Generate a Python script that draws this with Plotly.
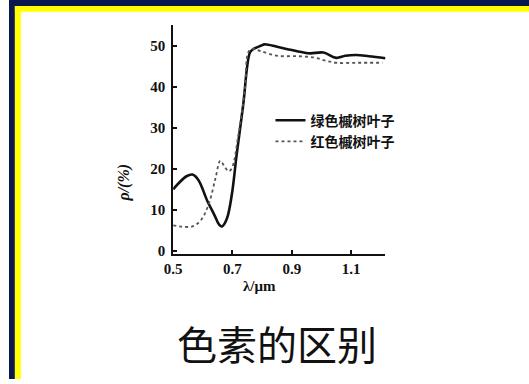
import plotly.graph_objects as go

# Reflectance spectra of maple leaves (wavelength in µm, reflectance in %)
wl_green = [0.50, 0.52, 0.545, 0.565, 0.585, 0.615, 0.64, 0.655, 0.665, 0.681,
            0.698, 0.714, 0.736, 0.759, 0.770, 0.797, 0.808, 0.85, 0.886, 0.94,
            0.963, 1.007, 1.05, 1.08, 1.117, 1.16, 1.216]
refl_green = [15.0, 16.6, 18.2, 18.6, 17.3, 12.2, 8.6, 6.4, 5.95, 7.8,
              13.8, 23.4, 35.5, 48.4, 49.2, 50.1, 50.4, 49.8, 49.2, 48.4,
              48.2, 48.4, 47.1, 47.6, 47.8, 47.5, 47.0]

wl_red = [0.50, 0.53, 0.565, 0.593, 0.620, 0.643, 0.659, 0.673, 0.687, 0.698,
          0.720, 0.742, 0.753, 0.766, 0.797, 0.852, 0.92, 0.974, 1.01, 1.05,
          1.12, 1.206]
refl_red = [6.2, 5.9, 5.95, 7.4, 11.4, 17.8, 22.0, 20.6, 19.4, 20.2,
            28.3, 39.5, 48.4, 49.3, 48.7, 47.6, 47.5, 47.2, 46.5, 45.9,
            45.9, 45.9]

names = ["绿色槭树叶子", "红色槭树叶子"]
x_ticks = [0.5, 0.7, 0.9, 1.1]
y_ticks = [0, 10, 20, 30, 40, 50]
title_text = "色素的区别"

W, H = 529, 384
NAVY = "#0b1850"
YELLOW = "#ffff00"
serif = "Liberation Serif, DejaVu Serif, serif"
cjk = "Noto Sans CJK SC, sans-serif"

fig = go.Figure()
fig.add_trace(go.Scatter(
    x=wl_green, y=refl_green, name=names[0], mode="lines",
    line=dict(color="#111111", width=2.6, shape="spline", smoothing=1.0),
))
fig.add_trace(go.Scatter(
    x=wl_red, y=refl_red, name=names[1], mode="lines",
    line=dict(color="#555555", width=1.8, dash="dot", shape="spline", smoothing=1.0),
))

def px_x(p):
    return p / W

def px_y(p):
    return 1 - p / H

axis_common = dict(
    showline=True, linecolor="#111111", linewidth=2,
    ticks="inside", ticklen=4, tickwidth=1.5, tickcolor="#111111",
    showgrid=False, zeroline=False,
    tickfont=dict(family=serif, size=15, color="#111111", weight="bold"),
)

fig.update_layout(
    width=W, height=H,
    margin=dict(l=0, r=0, t=0, b=0),
    paper_bgcolor="white", plot_bgcolor="white",
    xaxis=dict(
        domain=[px_x(167), px_x(383)], range=[0.5, 1.216],
        tickvals=x_ticks, ticktext=["0.5", "0.7", "0.9", "1.1"],
        **axis_common,
    ),
    yaxis=dict(
        domain=[px_y(257), px_y(25)], range=[-0.7, 55.2],
        tickvals=y_ticks, ticklabelstandoff=3,
        **axis_common,
    ),
    showlegend=True,
    legend=dict(
        x=px_x(266), y=px_y(106), xanchor="left", yanchor="top",
        bgcolor="rgba(0,0,0,0)",
        font=dict(family=cjk, size=14, color="#111111", weight="bold"),
        tracegroupgap=2,
    ),
    shapes=[
        # navy outer frame (top and left)
        dict(type="rect", xref="paper", yref="paper", x0=0, x1=1, y0=px_y(6), y1=1,
             fillcolor=NAVY, line_width=0, layer="above"),
        dict(type="rect", xref="paper", yref="paper", x0=0, x1=px_x(6), y0=0, y1=1,
             fillcolor=NAVY, line_width=0, layer="above"),
        # yellow inner frame
        dict(type="rect", xref="paper", yref="paper", x0=px_x(6), x1=1, y0=px_y(12), y1=px_y(6),
             fillcolor=YELLOW, line_width=0, layer="above"),
        dict(type="rect", xref="paper", yref="paper", x0=px_x(6), x1=px_x(12), y0=0, y1=px_y(6),
             fillcolor=YELLOW, line_width=0, layer="above"),
    ],
    annotations=[
        dict(text="ρ/(%)", x=px_x(117), y=px_y(185), xref="paper", yref="paper",
             xanchor="center", yanchor="middle", showarrow=False, textangle=-90,
             font=dict(family=serif, size=16, color="#111111", weight="bold", style="italic")),
        dict(text="λ/μm", x=px_x(255), y=px_y(290), xref="paper", yref="paper",
             xanchor="center", yanchor="middle", showarrow=False,
             font=dict(family=serif, size=15, color="#111111", weight="bold")),
        dict(text=title_text, x=px_x(273), y=px_y(348), xref="paper", yref="paper",
             xanchor="center", yanchor="middle", showarrow=False,
             font=dict(family=cjk, size=40, color="#111111")),
    ],
)

fig.write_html("out.html")
